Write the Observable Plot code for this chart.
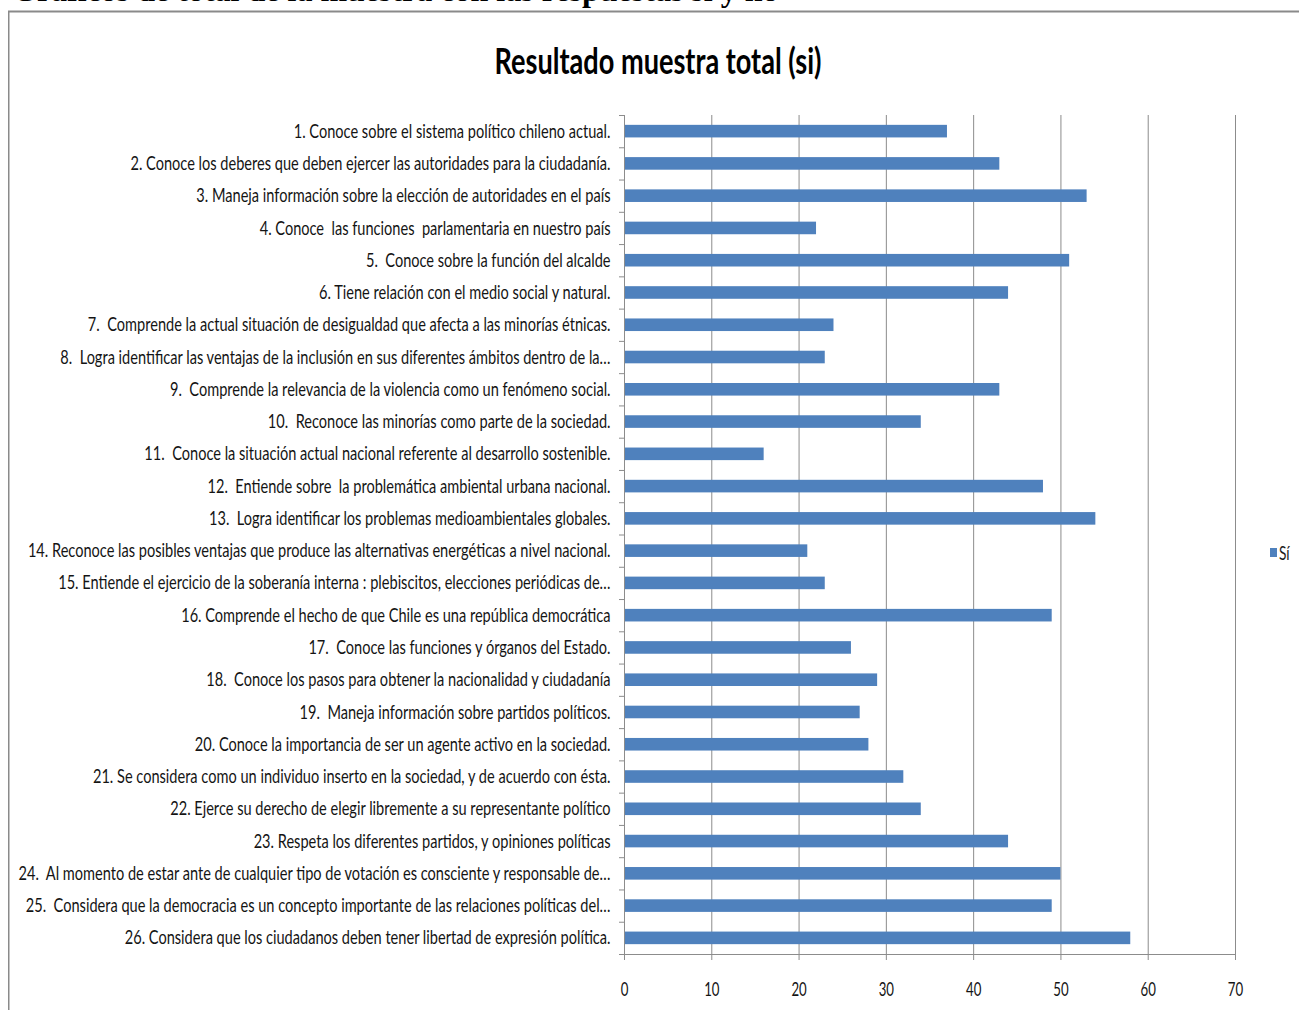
<!DOCTYPE html>
<html><head><meta charset="utf-8">
<script src="https://cdn.jsdelivr.net/npm/d3@7"></script>
<script src="https://cdn.jsdelivr.net/npm/@observablehq/plot@0.6"></script>
<style>
html,body{margin:0;padding:0;background:#fff;}
body{width:1299px;height:1010px;overflow:hidden;position:relative;}
#frame{position:absolute;left:0;top:0;}
#title{position:absolute;left:0;top:41px;width:1316px;text-align:center;font-family:Lato,'DejaVu Sans Condensed',sans-serif;font-weight:bold;font-size:37px;line-height:1;color:#000;transform-origin:658px 0;white-space:nowrap;}
#chart{position:absolute;left:0;top:100px;}
#chart svg text{white-space:pre;}
#legend{position:absolute;left:1270px;top:541px;font-family:Lato,'DejaVu Sans Condensed',sans-serif;font-size:19px;color:#1a1a1a;display:flex;align-items:center;}
#legend .sw{width:7px;height:9px;background:#4F81BD;margin-right:2px;}
#legname{display:inline-block;transform:scaleX(0.72);transform-origin:0 0;}
</style></head><body>
<svg id="frame" width="1299" height="1010">
  <text x="12" y="1.2" font-family="'Liberation Serif','Times New Roman',serif" font-weight="bold" font-size="32" fill="#000">Gráficos de total de la muestra con las respuestas si y no</text>
  <line x1="8" y1="11.5" x2="1299" y2="11.5" stroke="#8a8a8a" stroke-width="2"/>
  <line x1="8.75" y1="11" x2="8.75" y2="1010" stroke="#8a8a8a" stroke-width="1.5"/>
</svg>
<div id="title"><span id="tt">Resultado muestra total (si)</span></div>
<div id="chart"></div>
<div id="legend"><span class="sw"></span><span id="legname"></span></div>
<script>
const items = [
  "1. Conoce sobre el sistema político chileno actual.",
  "2. Conoce los deberes que deben ejercer las autoridades para la ciudadanía.",
  "3. Maneja información sobre la elección de autoridades en el país",
  "4. Conoce  las funciones  parlamentaria en nuestro país",
  "5.  Conoce sobre la función del alcalde",
  "6. Tiene relación con el medio social y natural.",
  "7.  Comprende la actual situación de desigualdad que afecta a las minorías étnicas.",
  "8.  Logra identificar las ventajas de la inclusión en sus diferentes ámbitos dentro de la…",
  "9.  Comprende la relevancia de la violencia como un fenómeno social.",
  "10.  Reconoce las minorías como parte de la sociedad.",
  "11.  Conoce la situación actual nacional referente al desarrollo sostenible.",
  "12.  Entiende sobre  la problemática ambiental urbana nacional.",
  "13.  Logra identificar los problemas medioambientales globales.",
  "14. Reconoce las posibles ventajas que produce las alternativas energéticas a nivel nacional.",
  "15. Entiende el ejercicio de la soberanía interna : plebiscitos, elecciones periódicas de…",
  "16. Comprende el hecho de que Chile es una república democrática",
  "17.  Conoce las funciones y órganos del Estado.",
  "18.  Conoce los pasos para obtener la nacionalidad y ciudadanía",
  "19.  Maneja información sobre partidos políticos.",
  "20. Conoce la importancia de ser un agente activo en la sociedad.",
  "21. Se considera como un individuo inserto en la sociedad, y de acuerdo con ésta.",
  "22. Ejerce su derecho de elegir libremente a su representante político",
  "23. Respeta los diferentes partidos, y opiniones políticas",
  "24.  Al momento de estar ante de cualquier tipo de votación es consciente y responsable de…",
  "25.  Considera que la democracia es un concepto importante de las relaciones políticas del…",
  "26. Considera que los ciudadanos deben tener libertad de expresión política."
];
const siValues = [37, 43, 53, 22, 51, 44, 24, 23, 43, 34, 16, 48, 54, 21, 23, 49, 26, 29, 27, 28, 32, 34, 44, 50, 49, 58];
const xTicks = [0, 10, 20, 30, 40, 50, 60, 70];
const seriesName = "Sí";

const data = items.map((q, i) => ({q, v: siValues[i]}));
const W = 1299, H = 910, mT = 15, mB = 56, mL = 624, mR = 64;
const step = (H - mT - mB) / items.length;
const gray = "#8c8c8c";
const font = "Lato,'DejaVu Sans Condensed',sans-serif";

const plot = Plot.plot({
  width: W, height: H,
  marginTop: mT, marginBottom: mB, marginLeft: mL, marginRight: mR,
  style: {fontFamily: font, background: "transparent", color: "#141414", overflow: "visible"},
  x: {domain: [0, 70], ticks: xTicks, label: null},
  y: {domain: items, paddingInner: 0.61, paddingOuter: 0.305, round: false, label: null},
  marks: [
    Plot.gridX(xTicks, {stroke: gray, strokeOpacity: 1}),
    Plot.barX(data, {x: "v", y: "q", fill: "#4F81BD"}),
    Plot.ruleX([0], {stroke: gray}),
    Plot.ruleY([items[items.length - 1]], {dy: step / 2, stroke: gray}),
    Plot.axisY({tickSize: 0, tickPadding: 14, fontSize: 19, label: null}),
    Plot.axisY({tickSize: 5, tickFormat: () => "", dy: step / 2, stroke: gray, label: null}),
    Plot.axisY([items[0]], {tickSize: 5, tickFormat: () => "", dy: -step / 2, stroke: gray, label: null}),
    Plot.axisX(xTicks, {tickSize: 6, tickPadding: 21, fontSize: 20, stroke: gray, label: null})
  ]
});
document.getElementById("chart").append(plot);
document.getElementById("legname").textContent = seriesName;

function squeeze(sel, f) {
  plot.querySelectorAll(sel).forEach(t => {
    const w = t.getComputedTextLength();
    if (w > 0) {
      t.setAttribute("textLength", (w * f).toFixed(2));
      t.setAttribute("lengthAdjust", "spacingAndGlyphs");
    }
  });
}
// condensed look of the original: fit the longest label to its width in the picture
const yLabels = [...plot.querySelectorAll('g[aria-label="y-axis tick label"] text')];
const longest = Math.max(...yLabels.map(t => t.getComputedTextLength()));
const fy = longest > 0 ? 592 / longest : 0.75;
squeeze('g[aria-label="y-axis tick label"] text', fy);
squeeze('g[aria-label="x-axis tick label"] text', 0.66);

const tt = document.getElementById("tt");
const tw = tt.getBoundingClientRect().width;
if (tw > 0) document.getElementById("title").style.transform = `scaleX(${327 / tw})`;
</script>
</body></html>
